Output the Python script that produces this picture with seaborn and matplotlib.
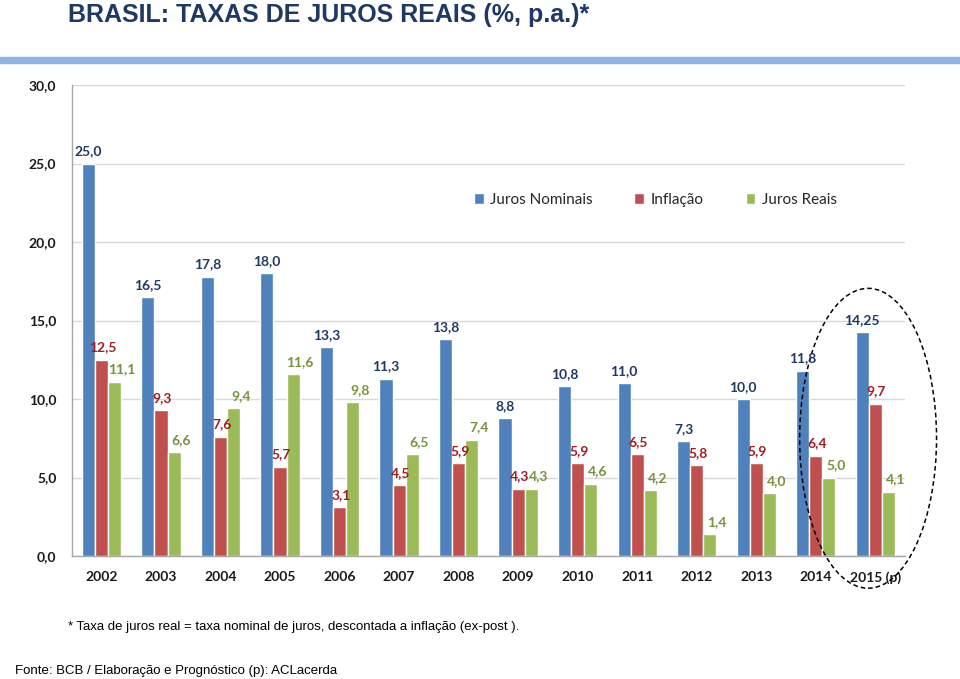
import matplotlib
matplotlib.use("Agg")
import matplotlib.pyplot as plt
import seaborn as sns
import pandas as pd
from matplotlib.patches import Ellipse
from matplotlib.ticker import FixedLocator, MultipleLocator, FuncFormatter

# ---------------- data ----------------
anos = ["2002", "2003", "2004", "2005", "2006", "2007", "2008", "2009",
        "2010", "2011", "2012", "2013", "2014", "2015 (p)"]
juros_nominais = [25.0, 16.5, 17.8, 18.0, 13.3, 11.3, 13.8, 8.8, 10.8, 11.0, 7.3, 10.0, 11.8, 14.25]
inflacao = [12.5, 9.3, 7.6, 5.7, 3.1, 4.5, 5.9, 4.3, 5.9, 6.5, 5.8, 5.9, 6.4, 9.7]
juros_reais = [11.1, 6.6, 9.4, 11.6, 9.8, 6.5, 7.4, 4.3, 4.6, 4.2, 1.4, 4.0, 5.0, 4.1]
series = ["Juros Nominais", "Inflação", "Juros Reais"]

bar_colors = ["#4F81BD", "#C0504D", "#9BBB59"]
label_colors = ["#1F3864", "#A01E22", "#77933C"]

df = pd.DataFrame({
    "ano": anos * 3,
    "valor": juros_nominais + inflacao + juros_reais,
    "serie": [series[0]] * len(anos) + [series[1]] * len(anos) + [series[2]] * len(anos),
})

def fmt(v):
    if abs(v * 10 - round(v * 10)) > 1e-9:
        return f"{v:.2f}".replace(".", ",")
    return f"{v:.1f}".replace(".", ",")

# ---------------- style ----------------
sns.set_style("white")
plt.rcParams["font.family"] = ["Lato", "DejaVu Sans"]
narrow = ["Liberation Sans", "DejaVu Sans"]

fig = plt.figure(figsize=(9.6, 6.79), dpi=100)
ax = fig.add_axes([0.0747, 0.1811, 0.8680, 0.6937])

sns.barplot(data=df, x="ano", y="valor", hue="serie", palette=bar_colors,
            width=0.66, gap=0, saturation=1, ax=ax, errorbar=None)

ax.set_ylim(0, 30)
ax.set_xlim(-0.5, len(anos) - 0.5)
ax.yaxis.set_major_locator(MultipleLocator(5))
ax.yaxis.set_major_formatter(FuncFormatter(lambda v, p: f"{v:.1f}".replace(".", ",")))
ax.grid(axis="y", color="#D9D9D9", linewidth=1)
ax.set_axisbelow(True)
ax.set_xlabel("")
ax.set_ylabel("")

for s in ["top", "right"]:
    ax.spines[s].set_visible(False)
for s in ["left", "bottom"]:
    ax.spines[s].set_color("#A6A6A6")
    ax.spines[s].set_linewidth(1)

ax.tick_params(axis="y", length=5, color="#A6A6A6", labelsize=10, pad=6)
ax.tick_params(axis="x", which="major", length=0, labelsize=10, pad=11)
ax.xaxis.set_minor_locator(FixedLocator([i + 0.5 for i in range(-1, len(anos))]))
ax.tick_params(axis="x", which="minor", length=5, color="#A6A6A6")
for t in ax.get_xticklabels() + ax.get_yticklabels():
    t.set_fontweight("bold")
    t.set_color("#1a1a1a")

# data labels
dx = [0.0, 0.02, 0.12]
for k, cont in enumerate(ax.containers):
    for bar in cont:
        h = bar.get_height()
        xc = bar.get_x() + bar.get_width() / 2 + dx[k]
        ax.text(xc, h + 0.4, fmt(h), ha="center", va="bottom",
                fontsize=10, fontweight="bold", color=label_colors[k])

# legend
handles, labels = ax.get_legend_handles_labels()
ax.legend(handles, labels, loc="center left", bbox_to_anchor=(0.466, 0.756),
          ncol=3, frameon=False, fontsize=11, handlelength=0.65, handleheight=0.65,
          handletextpad=0.4, columnspacing=2.75)

# dashed ellipse around 2015
ell = Ellipse((12.88, 7.5), width=2.3, height=19.1, fill=False,
              linestyle=(0, (3, 2)), linewidth=1.1, edgecolor="black", clip_on=False)
ax.add_patch(ell)

# title, band and notes
fig.text(0.071, 0.978, "BRASIL: TAXAS DE JUROS REAIS (%, p.a.)*", ha="left", va="center",
         fontsize=18, fontweight="bold", color="#1F3864", family=narrow)
fig.patches.append(plt.Rectangle((0, 1 - 63 / 679), 1, 6 / 679, transform=fig.transFigure,
                                 color="#8EB4E3", zorder=0))
fig.text(0.071, 1 - 627 / 679, "* Taxa de juros real = taxa nominal de juros, descontada a inflação (ex-post ).",
         ha="left", va="center", fontsize=9.5, color="black", family=narrow)
fig.text(0.016, 1 - 671 / 679, "Fonte: BCB / Elaboração e Prognóstico (p): ACLacerda",
         ha="left", va="center", fontsize=9.5, color="black", family=narrow)

fig.savefig("out.png", dpi=100)
